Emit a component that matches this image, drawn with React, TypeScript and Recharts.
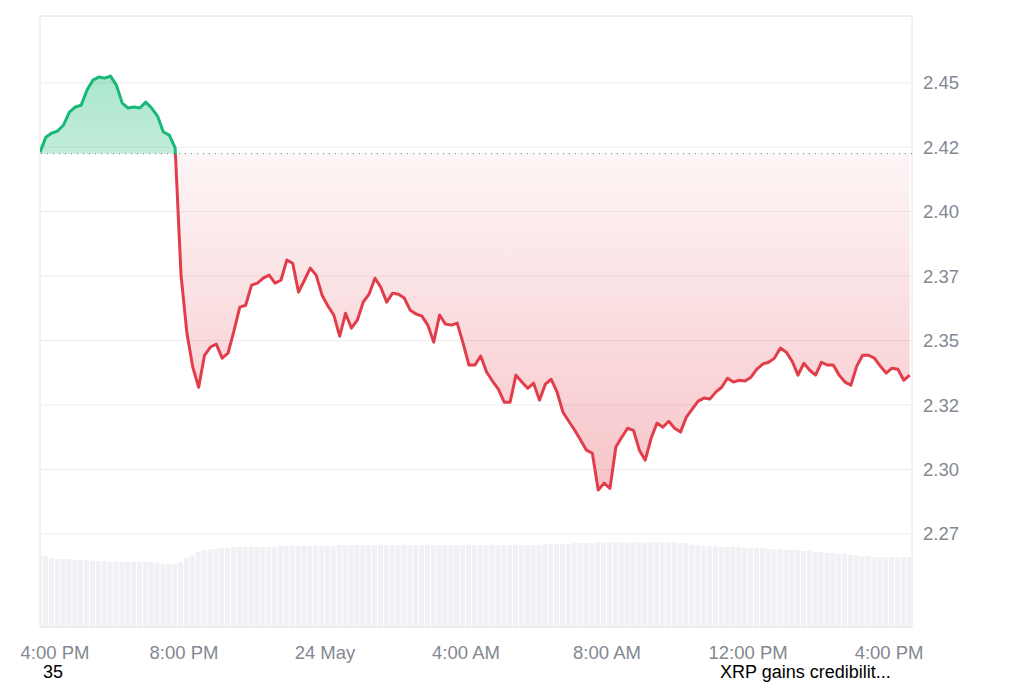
import React from 'react';
import { ComposedChart, Area, Bar, XAxis, YAxis, CartesianGrid, ReferenceLine, ReferenceArea } from 'recharts';

// 10-minute samples, first one at 3:55 PM (23 May)
const START_MIN = 15 * 60 + 55;
const STEP_MIN = 10;

const price = [
  2.4231, 2.4289, 2.4305, 2.4313, 2.4336, 2.4386, 2.4406, 2.4413, 2.4472, 2.4510,
  2.4522, 2.4518, 2.4526, 2.4491, 2.4421, 2.4402, 2.4406, 2.4402, 2.4425, 2.4402,
  2.4371, 2.4309, 2.4297, 2.4247, 2.3754, 2.3529, 2.3397, 2.3319, 2.3443, 2.3475,
  2.3486, 2.3432, 2.3451, 2.3537, 2.3630, 2.3637, 2.3715, 2.3723, 2.3742, 2.3754,
  2.3723, 2.3734, 2.3812, 2.3800, 2.3688, 2.3734, 2.3781, 2.3754, 2.3676, 2.3634,
  2.3599, 2.3517, 2.3606, 2.3548, 2.3579, 2.3649, 2.3680, 2.3742, 2.3707, 2.3649,
  2.3684, 2.3680, 2.3665, 2.3618, 2.3603, 2.3595, 2.3560, 2.3494, 2.3599, 2.3564,
  2.3560, 2.3568, 2.3490, 2.3405, 2.3405, 2.3440, 2.3378, 2.3343, 2.3312, 2.3261,
  2.3261, 2.3366, 2.3339, 2.3315, 2.3335, 2.3269, 2.3331, 2.3350, 2.3300, 2.3222,
  2.3187, 2.3152, 2.3114, 2.3075, 2.3063, 2.2920, 2.2947, 2.2927, 2.3087, 2.3125,
  2.3160, 2.3152, 2.3075, 2.3036, 2.3121, 2.3180, 2.3164, 2.3187, 2.3160, 2.3145,
  2.3203, 2.3234, 2.3265, 2.3277, 2.3273, 2.3300, 2.3319, 2.3354, 2.3339, 2.3346,
  2.3343, 2.3358, 2.3389, 2.3409, 2.3416, 2.3432, 2.3471, 2.3455, 2.3420, 2.3366,
  2.3412, 2.3385, 2.3366, 2.3416, 2.3405, 2.3405, 2.3366, 2.3339, 2.3327, 2.3401,
  2.3443, 2.3443, 2.3432, 2.3401, 2.3374, 2.3393, 2.3389, 2.3346, 2.3366,
];

// 24h volume, billions USD
const volume = [
  2.88, 2.84, 2.76, 2.72, 2.72, 2.72, 2.68, 2.68, 2.68, 2.64,
  2.64, 2.64, 2.60, 2.60, 2.60, 2.60, 2.60, 2.60, 2.60, 2.60,
  2.56, 2.52, 2.52, 2.52, 2.60, 2.76, 2.88, 3.00, 3.08, 3.12,
  3.12, 3.16, 3.16, 3.20, 3.20, 3.20, 3.20, 3.20, 3.20, 3.20,
  3.20, 3.24, 3.24, 3.24, 3.24, 3.24, 3.24, 3.24, 3.24, 3.24,
  3.24, 3.28, 3.28, 3.28, 3.28, 3.28, 3.28, 3.28, 3.28, 3.28,
  3.28, 3.28, 3.28, 3.28, 3.28, 3.28, 3.28, 3.28, 3.28, 3.28,
  3.28, 3.28, 3.28, 3.28, 3.28, 3.28, 3.28, 3.28, 3.28, 3.28,
  3.28, 3.28, 3.28, 3.28, 3.28, 3.28, 3.32, 3.32, 3.32, 3.32,
  3.32, 3.36, 3.36, 3.36, 3.36, 3.40, 3.40, 3.40, 3.40, 3.40,
  3.40, 3.40, 3.40, 3.40, 3.40, 3.40, 3.40, 3.40, 3.40, 3.36,
  3.36, 3.28, 3.28, 3.24, 3.24, 3.24, 3.20, 3.20, 3.20, 3.20,
  3.16, 3.16, 3.16, 3.16, 3.12, 3.12, 3.12, 3.08, 3.08, 3.08,
  3.04, 3.04, 3.00, 3.00, 2.96, 2.96, 2.92, 2.92, 2.88, 2.88,
  2.84, 2.84, 2.80, 2.80, 2.80, 2.80, 2.80, 2.80, 2.80,
];

const xTicks = [16 * 60, 20 * 60, 24 * 60, 28 * 60, 32 * 60, 36 * 60, 40 * 60];
const xTickLabels = ['4:00 PM', '8:00 PM', '24 May', '4:00 AM', '8:00 AM', '12:00 PM', '4:00 PM'];
const yTicks = [2.275, 2.3, 2.325, 2.35, 2.375, 2.4, 2.425, 2.45];

const openPrice = 2.4225;
const priceDomain: [number, number] = [2.2389, 2.4759];
const volDomain: [number, number] = [0, 24.48];
const timeDomain: [number, number] = [START_MIN, START_MIN + 1484];

const UP = '#16b977';
const DOWN = '#e23d4a';
const TICK_COLOR = '#838891';

const data = price.map((p, i) => ({
  t: START_MIN + i * STEP_MIN,
  price: p,
  volume: volume[i],
}));

// where the open price sits inside the line's bounding box (top = max)
const maxP = Math.max(...price);
const minP = Math.min(...price);
const splitOffset = (maxP - openPrice) / (maxP - minP);

const fmtPrice = (v: number) => (Math.floor(v * 100 + 1e-6) / 100).toFixed(2);

const TimeTick = (props: any) => {
  const { x, y, payload } = props;
  const label = xTickLabels[xTicks.indexOf(payload.value)];
  // keep the first label from hanging off the left edge
  const cx = Math.max(x, 55);
  return (
    <text x={cx} y={y} dy="0.71em" textAnchor="middle" fill={TICK_COLOR} fontSize={18.5}>
      {label}
    </text>
  );
};

const footText: React.CSSProperties = {
  position: 'absolute',
  top: 665,
  fontSize: 18,
  lineHeight: '14px',
  color: '#000',
  whiteSpace: 'nowrap',
};

export default function App() {
  return (
    <div
      style={{
        position: 'absolute',
        left: 0,
        top: 0,
        width: 1024,
        height: 683,
        background: '#fff',
        fontFamily: '"Liberation Sans", Arial, sans-serif',
      }}
    >
      <ComposedChart width={1024} height={683} data={data} margin={{ top: 16, right: 0, left: 40, bottom: 26 }}>
        <defs>
          <linearGradient id="priceStroke" x1="0" y1="0" x2="0" y2="1">
            <stop offset={splitOffset} stopColor={UP} />
            <stop offset={splitOffset} stopColor={DOWN} />
          </linearGradient>
          <linearGradient id="priceFill" x1="0" y1="0" x2="0" y2="1">
            <stop offset={0} stopColor={UP} stopOpacity={0.36} />
            <stop offset={splitOffset} stopColor={UP} stopOpacity={0.26} />
            <stop offset={splitOffset} stopColor={DOWN} stopOpacity={0.05} />
            <stop offset={1} stopColor={DOWN} stopOpacity={0.3} />
          </linearGradient>
        </defs>
        <CartesianGrid yAxisId="p" vertical={false} stroke="#ececec" />
        <ReferenceArea
          yAxisId="p"
          y1={priceDomain[0]}
          y2={priceDomain[1]}
          fill="none"
          stroke="#e6e6e6"
          ifOverflow="visible"
        />
        <XAxis
          dataKey="t"
          type="number"
          domain={timeDomain}
          allowDataOverflow
          ticks={xTicks}
          interval={0}
          tick={<TimeTick />}
          tickLine={false}
          axisLine={false}
          tickMargin={13}
          height={30}
        />
        <YAxis
          yAxisId="p"
          orientation="right"
          width={112}
          domain={priceDomain}
          allowDataOverflow
          ticks={yTicks}
          interval={0}
          tickFormatter={fmtPrice}
          tick={{ fill: TICK_COLOR, fontSize: 18.5 }}
          tickLine={false}
          axisLine={false}
          tickMargin={5}
        />
        <YAxis yAxisId="v" hide domain={volDomain} />
        <Bar yAxisId="v" dataKey="volume" fill="#eff1f4" barSize={5} isAnimationActive={false} />
        <Area
          yAxisId="p"
          type="linear"
          dataKey="price"
          baseValue={openPrice}
          stroke="url(#priceStroke)"
          strokeWidth={3}
          strokeLinejoin="round"
          fill="url(#priceFill)"
          fillOpacity={1}
          dot={false}
          activeDot={false}
          isAnimationActive={false}
        />
        <ReferenceLine yAxisId="p" y={openPrice} stroke="#8c8c8c" strokeDasharray="1 5" strokeWidth={1.2} />
      </ComposedChart>
      <div style={{ ...footText, left: 43 }}>35</div>
      <div style={{ ...footText, left: 720 }}>XRP gains credibilit...</div>
    </div>
  );
}
